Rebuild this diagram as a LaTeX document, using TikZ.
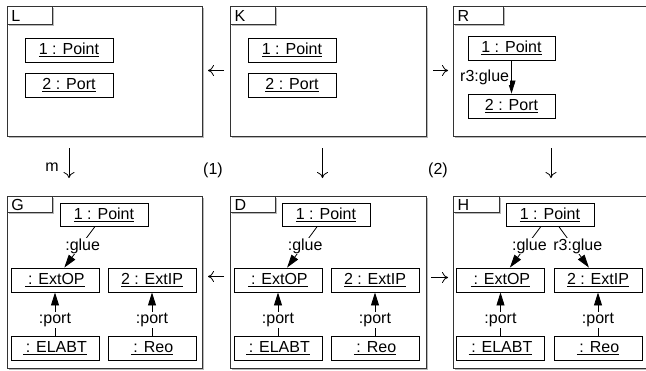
\documentclass[tikz,border=0pt]{standalone}
\usepackage{fontspec}
\setmainfont{Liberation Sans}
\usetikzlibrary{arrows.meta,shadows,calc}
\begin{document}
\begin{tikzpicture}[x=1pt,y=-1pt,
  every node/.style={font=\fontsize{16pt}{19pt}\selectfont},
  frame/.style={draw=black!80, line width=1pt, fill=white, inner sep=0pt, anchor=north west,
    drop shadow={shadow xshift=1.3pt, shadow yshift=-1.3pt, fill=black!28, opacity=1}},
  tabbox/.style={draw=black!80, line width=1pt, fill=white, anchor=north west, inner xsep=4pt, inner ysep=0pt, align=left,
    drop shadow={shadow xshift=1.1pt, shadow yshift=-1.1pt, fill=black!28, opacity=1}},
  obj/.style={draw, line width=0.9pt, fill=white, minimum width=88pt, minimum height=24pt, inner sep=0pt},
  nav/.style={-{Triangle[length=13pt,width=8pt]}, line width=0.8pt},
  lbl/.style={fill=white, inner sep=1pt},
  mor/.style={-{Computer Modern Rightarrow[length=6pt,width=11pt]}, line width=0.8pt}
]
\useasboundingbox (0,0) rectangle (646,370);

% frames
\node[frame, minimum width=195pt, minimum height=130pt] (L) at (7,6) {};
\node[frame, minimum width=196pt, minimum height=130pt] (K) at (230,6) {};
\node[frame, minimum width=195pt, minimum height=130pt] (R) at (453,6) {};
\node[frame, minimum width=195pt, minimum height=172pt] (G) at (7,196) {};
\node[frame, minimum width=196pt, minimum height=172pt] (D) at (230,196) {};
\node[frame, minimum width=195pt, minimum height=172pt] (H) at (453,196) {};

% tabs
\node[tabbox, text width=37pt, minimum height=18pt] (Lt) at (L.north west) {L};
\node[tabbox, text width=37pt, minimum height=18pt] (Kt) at (K.north west) {K};
\node[tabbox, text width=42pt, minimum height=18pt] (Rt) at (R.north west) {R};
\node[tabbox, text width=37pt, minimum height=16pt] (Gt) at (G.north west) {G};
\node[tabbox, text width=37pt, minimum height=16pt] (Dt) at (D.north west) {D};
\node[tabbox, text width=38pt, minimum height=16pt] (Ht) at (H.north west) {H};

% top row objects
\node[obj] (L1) at (69,50) {\underline{1 : Point}};
\node[obj] (L2) at (69,85) {\underline{2 : Port}};
\node[obj] (K1) at (292,50) {\underline{1 : Point}};
\node[obj] (K2) at (292,85) {\underline{2 : Port}};
\node[obj, minimum width=87pt] (R1) at (511.5,48) {\underline{1 : Point}};
\node[obj, minimum width=87pt] (R2) at (511.5,106) {\underline{2 : Port}};

% G
\node[obj, minimum height=23pt] (Gp) at (104,214.5) {\underline{1 : Point}};
\node[obj] (Go) at (55,280) {\underline{\,: ExtOP}};
\node[obj] (Gi) at (152,280) {\underline{2 : ExtIP}};
\node[obj] (Ge) at (55,348) {\underline{\,: ELABT}};
\node[obj] (Gr) at (152,348) {\underline{\,: Reo}};
% D
\node[obj, minimum height=23pt] (Dp) at (326,214.5) {\underline{1 : Point}};
\node[obj] (Do) at (278,280) {\underline{\,: ExtOP}};
\node[obj] (Di) at (375,280) {\underline{2 : ExtIP}};
\node[obj] (De) at (278,348) {\underline{\,: ELABT}};
\node[obj] (Dr) at (375,348) {\underline{\,: Reo}};
% H
\node[obj, minimum height=23pt] (Hp) at (550,214.5) {\underline{1 : Point}};
\node[obj] (Ho) at (500.5,280) {\underline{\,: ExtOP}};
\node[obj] (Hi) at (598,280) {\underline{2 : ExtIP}};
\node[obj] (He) at (500.5,348) {\underline{\,: ELABT}};
\node[obj] (Hr) at (598,348) {\underline{\,: Reo}};

% links
\draw[nav] (R1) -- node[lbl, midway, anchor=east, xshift=-1pt] {r3:glue} (R2);

\draw[nav] (Gp) -- node[lbl, midway, xshift=3pt, yshift=1pt] {:glue} (Go);
\draw[nav] (Ge) -- node[lbl, pos=0.36] {:port} (Go);
\draw[nav] (Gr) -- node[lbl, pos=0.36] {:port} (Gi);

\draw[nav] (Dp) -- node[lbl, midway, xshift=3pt, yshift=1pt] {:glue} (Do);
\draw[nav] (De) -- node[lbl, pos=0.36] {:port} (Do);
\draw[nav] (Dr) -- node[lbl, pos=0.36] {:port} (Di);

\draw[nav] (Hp) -- node[lbl, midway, xshift=4pt, yshift=1pt] {:glue} (Ho);
\draw[nav] (Hp) -- node[lbl, midway, xshift=4pt, yshift=1pt] {r3:glue} (Hi);
\draw[nav] (He) -- node[lbl, pos=0.36] {:port} (Ho);
\draw[nav] (Hr) -- node[lbl, pos=0.36] {:port} (Hi);

% morphisms
\draw[mor, shorten <=6pt, shorten >=5pt] ([yshift=1pt]K.west) -- ([yshift=1pt]L.east);
\draw[mor, shorten <=6pt, shorten >=5pt] ([yshift=1pt]K.east) -- ([yshift=1pt]R.west);
\draw[mor, shorten <=6pt, shorten >=5pt] ([yshift=6pt]D.west) -- ([yshift=6pt]G.east);
\draw[mor, shorten <=4pt, shorten >=5pt] ([yshift=5pt]D.east) -- ([yshift=5pt]H.west);

\draw[mor, shorten <=11pt, shorten >=18pt] ([xshift=-36pt]L.south) -- node[pos=0.52, anchor=east, inner sep=0pt, xshift=-10pt] {m} ([xshift=-36pt]G.north);
\draw[mor, shorten <=11pt, shorten >=18pt] ([xshift=-6pt]K.south) -- ([xshift=-6pt]D.north);
\draw[mor, shorten <=11pt, shorten >=18pt] (R.south) -- (H.north);

\node (n1) at (213,170) {(1)};
\node (n2) at (438,170) {(2)};
\end{tikzpicture}
\end{document}
